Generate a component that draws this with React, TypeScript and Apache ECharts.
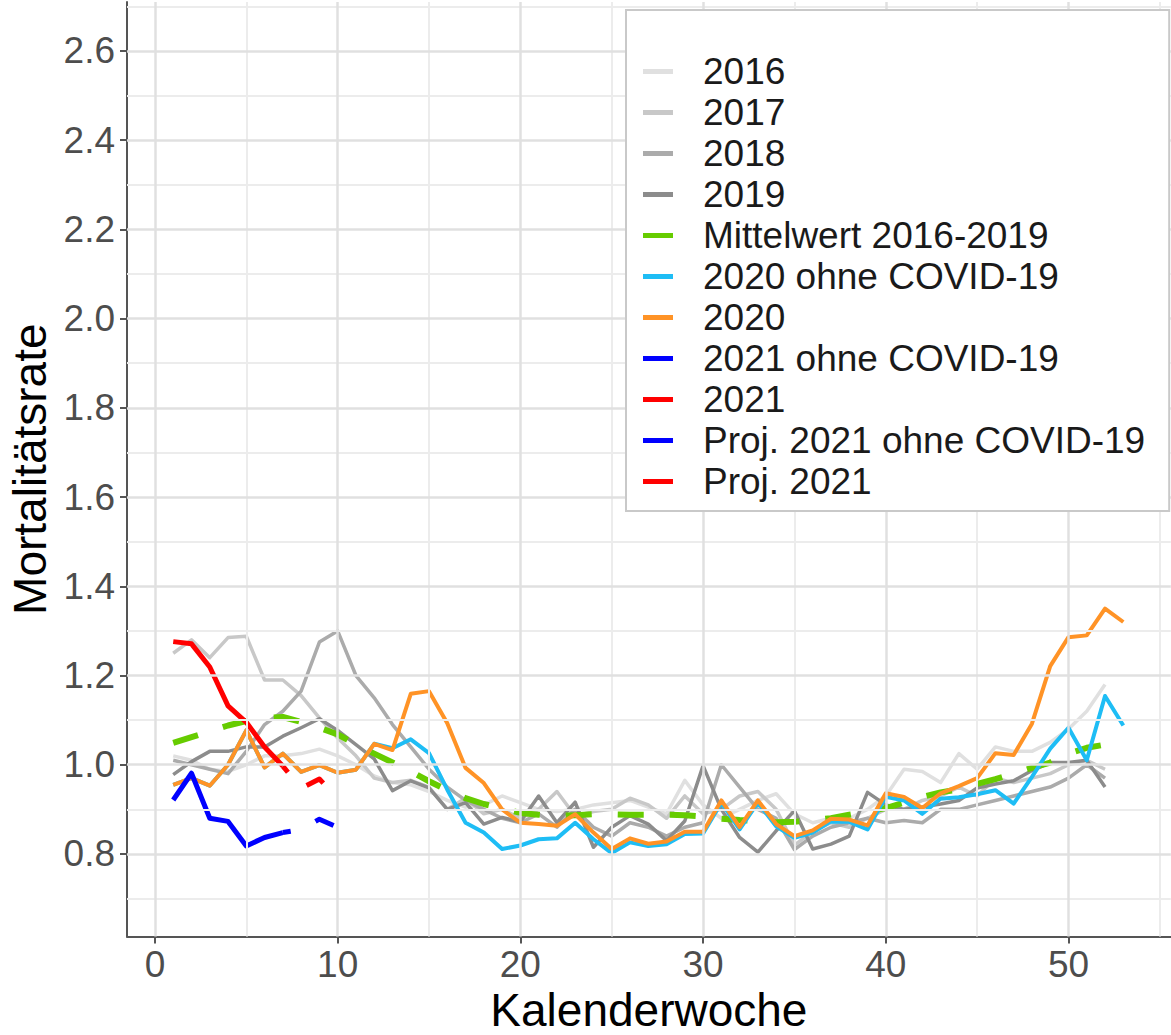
import React, { useEffect, useRef } from 'react';
import * as echarts from 'echarts';

// ---- data ----
const weeks = [1,2,3,4,5,6,7,8,9,10,11,12,13,14,15,16,17,18,19,20,21,22,23,24,25,26,27,28,29,30,31,32,33,34,35,36,37,38,39,40,41,42,43,44,45,46,47,48,49,50,51,52,53];
const weeks2021 = [1,2,3,4,5,6,7];
const weeksProj = [7,8,9,10];

const y2016 = [1.02,1.01,0.99,0.985,1.0,1.02,1.02,1.025,1.035,1.02,1.0,0.975,0.96,0.955,0.94,0.92,0.905,0.91,0.93,0.915,0.9,0.895,0.9,0.91,0.915,0.92,0.905,0.89,0.965,0.91,0.88,0.9,0.92,0.935,0.89,0.87,0.88,0.88,0.9,0.93,0.99,0.985,0.96,1.025,0.99,1.04,1.03,1.03,1.05,1.08,1.12,1.18];
const y2017 = [1.25,1.28,1.24,1.285,1.288,1.19,1.19,1.155,1.105,1.06,1.02,0.97,0.96,0.965,0.95,0.9,0.925,0.89,0.9,0.88,0.9,0.94,0.885,0.895,0.9,0.925,0.91,0.88,0.93,0.89,0.9,0.93,0.94,0.9,0.82,0.85,0.87,0.86,0.88,0.9,0.9,0.92,0.93,0.95,0.93,0.97,0.96,0.97,0.98,1.0,1.01,0.99];
const y2018 = [1.01,1.0,0.99,0.98,1.03,1.09,1.12,1.165,1.275,1.3,1.2,1.15,1.09,1.04,0.99,0.95,0.92,0.9,0.88,0.87,0.89,0.86,0.9,0.86,0.84,0.87,0.86,0.84,0.86,0.87,1.0,0.95,0.9,0.88,0.81,0.84,0.86,0.87,0.88,0.87,0.875,0.87,0.9,0.9,0.91,0.92,0.93,0.94,0.95,0.97,1.0,0.97];
const y2019 = [0.978,1.007,1.03,1.03,1.04,1.04,1.064,1.083,1.103,1.077,1.045,1.013,0.942,0.964,0.948,0.9,0.915,0.867,0.882,0.872,0.93,0.87,0.916,0.815,0.86,0.886,0.867,0.83,0.874,0.998,0.9,0.837,0.804,0.852,0.897,0.811,0.822,0.84,0.938,0.91,0.9,0.905,0.912,0.92,0.948,0.957,0.964,0.987,1.005,1.005,1.01,0.95];
const yMean = [1.049,1.062,1.075,1.088,1.098,1.105,1.107,1.096,1.083,1.068,1.045,1.025,1.005,0.985,0.963,0.943,0.925,0.912,0.902,0.892,0.888,0.885,0.887,0.889,0.889,0.888,0.888,0.888,0.887,0.884,0.879,0.876,0.874,0.871,0.872,0.876,0.88,0.888,0.895,0.903,0.915,0.928,0.938,0.945,0.957,0.968,0.98,0.993,1.005,1.025,1.038,1.045];
const y2020ohne = [0.955,0.97,0.953,1.0,1.077,0.994,1.025,0.984,0.999,0.982,0.989,1.047,1.037,1.057,1.026,0.944,0.87,0.848,0.811,0.819,0.833,0.835,0.87,0.833,0.802,0.826,0.818,0.822,0.845,0.846,0.915,0.855,0.915,0.862,0.836,0.848,0.873,0.872,0.855,0.928,0.92,0.89,0.924,0.927,0.934,0.943,0.913,0.973,1.036,1.083,1.01,1.154,1.088];
const y2020 = [0.955,0.97,0.953,1.0,1.077,0.994,1.025,0.984,0.999,0.982,0.989,1.047,1.033,1.159,1.165,1.093,0.993,0.959,0.9,0.87,0.867,0.863,0.889,0.848,0.811,0.835,0.823,0.828,0.85,0.85,0.92,0.86,0.92,0.867,0.84,0.853,0.879,0.877,0.864,0.936,0.928,0.903,0.936,0.952,0.97,1.026,1.022,1.092,1.221,1.286,1.29,1.35,1.32];
const y2021ohne = [0.921,0.981,0.88,0.873,0.818,0.837,0.848];
const y2021 = [1.276,1.271,1.219,1.132,1.095,1.04,0.997];
const yProjOhne = [0.848,0.855,0.878,0.86];
const yProj2021 = [0.997,0.947,0.968,0.925];

const xMajor = [0,10,20,30,40,50];
const xMinor = [5,15,25,35,45,55];
const yMajor = [0.8,1.0,1.2,1.4,1.6,1.8,2.0,2.2,2.4,2.6];
const yMinor = [0.7,0.9,1.1,1.3,1.5,1.7,1.9,2.1,2.3,2.5,2.7];

const names = ['2016','2017','2018','2019','Mittelwert 2016-2019','2020 ohne COVID-19','2020','2021 ohne COVID-19','2021','Proj. 2021 ohne COVID-19','Proj. 2021'];

const FONT = '"Liberation Sans", Arial, Helvetica, sans-serif';

const pairs = (xs: number[], ys: number[]) => ys.map((v, i) => [xs[i], v]);

function lineSeries(name: string, xs: number[], ys: number[], color: string, width: number, dash?: number[], dashOffset?: number) {
  return {
    type: 'line',
    name,
    data: pairs(xs, ys),
    color,
    showSymbol: false,
    symbol: 'none',
    silent: true,
    emphasis: { disabled: true },
    lineStyle: {
      color,
      width,
      type: dash ? dash : 'solid',
      dashOffset: dashOffset || 0,
      join: 'round',
      cap: 'butt',
    },
  };
}

export default function App() {
  const ref = useRef<HTMLDivElement>(null);
  useEffect(() => {
    if (!ref.current) return;
    const chart = echarts.init(ref.current, undefined, { renderer: 'svg' });
    const gridLines = [
      ...xMinor.map((v) => ({ xAxis: v, lineStyle: { color: '#ececec', width: 2, type: 'solid' } })),
      ...yMinor.map((v) => ({ yAxis: v, lineStyle: { color: '#ececec', width: 2, type: 'solid' } })),
      ...xMajor.map((v) => ({ xAxis: v, lineStyle: { color: '#e0e0e0', width: 2.5, type: 'solid' } })),
      ...yMajor.map((v) => ({ yAxis: v, lineStyle: { color: '#e0e0e0', width: 2.5, type: 'solid' } })),
    ];
    const option: any = {
      animation: false,
      backgroundColor: '#ffffff',
      grid: { left: 127, right: 0.2, top: 1.9, bottom: 98.5, containLabel: false, outerBoundsMode: 'none' },
      xAxis: {
        type: 'value',
        min: -1.53,
        max: 55.6,
        name: 'Kalenderwoche',
        nameLocation: 'middle',
        nameGap: 41,
        nameTextStyle: { fontFamily: FONT, fontSize: 46, color: '#000000' },
        axisLine: { show: true, onZero: false, lineStyle: { color: '#555555', width: 2 } },
        axisTick: { show: true, length: 7, customValues: xMajor, lineStyle: { color: '#555555', width: 2 } },
        axisLabel: { customValues: xMajor, fontFamily: FONT, fontSize: 37, color: '#4d4d4d', margin: 9 },
        splitLine: { show: false },
        minorSplitLine: { show: false },
      },
      yAxis: {
        type: 'value',
        min: 0.615,
        max: 2.71,
        name: 'Mortalitätsrate',
        nameLocation: 'middle',
        nameRotate: 90,
        nameGap: 72,
        nameTextStyle: { fontFamily: FONT, fontSize: 46, color: '#000000' },
        axisLine: { show: true, onZero: false, lineStyle: { color: '#555555', width: 2 } },
        axisTick: { show: true, length: 7, customValues: yMajor, lineStyle: { color: '#555555', width: 2 } },
        axisLabel: {
          customValues: yMajor,
          fontFamily: FONT,
          fontSize: 37,
          color: '#4d4d4d',
          margin: 12,
          formatter: (v: number) => v.toFixed(1),
        },
        splitLine: { show: false },
        minorSplitLine: { show: false },
      },
      legend: {
        orient: 'vertical',
        left: 626,
        top: 10,
        itemWidth: 30,
        itemHeight: 5,
        itemGap: 0,
        icon: 'rect',
        padding: [41, 24, 9, 17],
        backgroundColor: '#ffffff',
        borderColor: '#c9c9c9',
        borderWidth: 2,
        borderRadius: 0,
        selectedMode: false,
        itemStyle: { borderWidth: 0 },
        textStyle: { fontFamily: FONT, fontSize: 37, color: '#1a1a1a', lineHeight: 41, padding: [0, 0, 0, 25] },
        data: names,
        z: 10,
      },
      series: [
        {
          type: 'line',
          name: '__grid',
          data: [],
          silent: true,
          z: 1,
          markLine: {
            silent: true,
            symbol: ['none', 'none'],
            label: { show: false },
            emphasis: { disabled: true },
            animation: false,
            data: gridLines,
          },
        },
        lineSeries('2016', weeks, y2016, '#e0e0e0', 3.5),
        lineSeries('2017', weeks, y2017, '#c8c8c8', 3.5),
        lineSeries('2018', weeks, y2018, '#ababab', 3.5),
        lineSeries('2019', weeks, y2019, '#8c8c8c', 3.5),
        lineSeries('Mittelwert 2016-2019', weeks, yMean, '#66cc00', 6, [26, 26]),
        lineSeries('2020 ohne COVID-19', weeks, y2020ohne, '#1ebdf5', 4),
        lineSeries('2020', weeks, y2020, '#ff9326', 4),
        lineSeries('2021 ohne COVID-19', weeks2021, y2021ohne, '#0000ff', 5),
        lineSeries('2021', weeks2021, y2021, '#ff0000', 5),
        lineSeries('Proj. 2021 ohne COVID-19', weeksProj, yProjOhne, '#0000ff', 5, [20, 27], 12),
        lineSeries('Proj. 2021', weeksProj, yProj2021, '#ff0000', 5, [20, 27], 12),
      ],
    };
    chart.setOption(option);
    return () => chart.dispose();
  }, []);
  return (
    <div
      ref={ref}
      style={{ position: 'fixed', left: 0, top: 0, width: 1171, height: 1035, background: '#ffffff' }}
    />
  );
}
